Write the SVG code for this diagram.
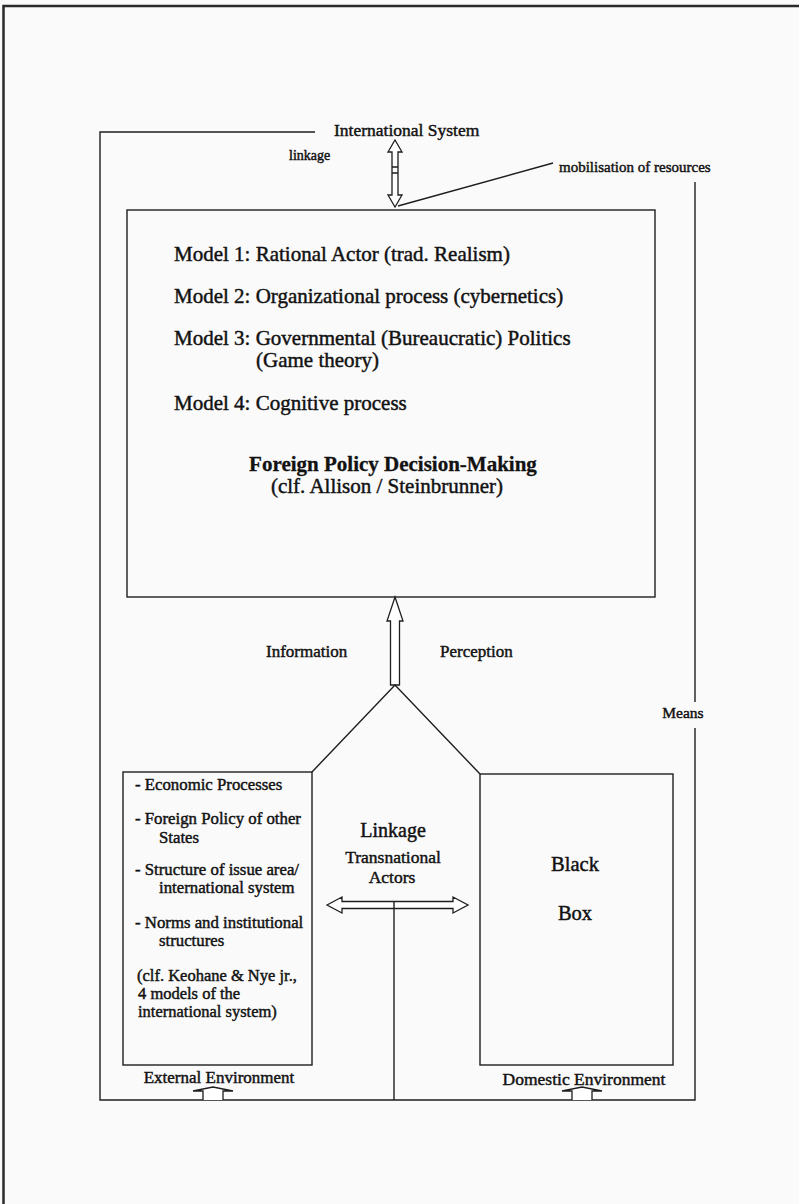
<svg xmlns="http://www.w3.org/2000/svg" width="799" height="1204" viewBox="0 0 799 1204">
  <style>
    .t { font-family: "Liberation Serif", "Times New Roman", serif; fill: #121212; stroke: #121212; stroke-width: 0.45; }
    .b { font-weight: bold; stroke-width: 0.3; }
    .c { text-anchor: middle; }
    .ln { fill: none; stroke: #1e1e1e; stroke-width: 1.4; }
    .hollow { fill: #ffffff; stroke: #1e1e1e; stroke-width: 1.3; stroke-linejoin: miter; }
  </style>

  <!-- paper -->
  <rect x="0" y="0" width="799" height="1204" fill="#fafafa"/>
  <path d="M3.5,1204 V6 H799" fill="none" stroke="#2a2a2a" stroke-width="2.5"/>

  <!-- connectors and framing lines -->
  <g id="connectors">
    <!-- outer frame of the international system -->
    <path class="ln" d="M315,132 H100 V1100 H695 V728"/>
    <path class="ln" d="M695,182 V702"/>
    <!-- linkage double arrow between system and decision-making -->
    <path class="hollow" d="M395,140 L402,152 L398,152 L398,195 L402,195 L395,207 L388,195 L392,195 L392,152 L388,152 Z"/>
    <path class="ln" d="M392,167 H398 M392,173 H398" stroke-width="1"/>
    <!-- mobilisation of resources pointer -->
    <path class="ln" d="M398,206 L553,163"/>
    <!-- information / perception arrow into decision-making -->
    <path class="hollow" d="M395,597 L403,621 L399.5,621 L399.5,685 L390.5,685 L390.5,621 L387,621 Z"/>
    <path class="ln" d="M312,772 L395,685 L480,774"/>
    <!-- transnational linkage arrow -->
    <path class="hollow" d="M327,905 L342,897 L342,901.5 L453,901.5 L453,897 L468,905 L453,913 L453,908.5 L342,908.5 L342,913 Z"/>
    <path class="ln" d="M394,901.5 V1100"/>
    <!-- environment inputs -->
    <path class="hollow" d="M203,1100 V1091 H193 L213,1087 L233,1091 H223 V1100"/>
    <path class="hollow" d="M572,1100 V1091 H562 L582,1087 L602,1091 H592 V1100"/>
  </g>

  <g id="international-system">
    <text class="t" x="334" y="136" font-size="17.5">International System</text>
    <text class="t" x="289" y="160" font-size="14">linkage</text>
    <text class="t" x="559" y="172" font-size="15">mobilisation of resources</text>
    <text class="t c" x="683" y="718" font-size="15.5">Means</text>
  </g>

  <g id="decision-making">
    <rect class="ln" x="127" y="210" width="528" height="387"/>
    <text class="t" x="174" y="261" font-size="21">Model 1: Rational Actor (trad. Realism)</text>
    <text class="t" x="174" y="303" font-size="21">Model 2: Organizational process (cybernetics)</text>
    <text class="t" x="174" y="345" font-size="21">Model 3: Governmental (Bureaucratic) Politics</text>
    <text class="t" x="256" y="367" font-size="21">(Game theory)</text>
    <text class="t" x="174" y="410" font-size="21">Model 4: Cognitive process</text>
    <text class="t b c" x="393" y="471" font-size="21">Foreign Policy Decision-Making</text>
    <text class="t c" x="387" y="493" font-size="21">(clf. Allison / Steinbrunner)</text>
  </g>

  <g id="information-labels">
    <text class="t" x="266" y="657" font-size="17">Information</text>
    <text class="t" x="440" y="657" font-size="17">Perception</text>
  </g>

  <g id="external-environment">
    <rect class="ln" x="123" y="772" width="189" height="293"/>
    <text class="t" x="135" y="790" font-size="16.8">- Economic Processes</text>
    <text class="t" x="135" y="824" font-size="16.8">- Foreign Policy of other</text>
    <text class="t" x="159" y="843" font-size="16.8">States</text>
    <text class="t" x="135" y="875" font-size="16.8">- Structure of issue area/</text>
    <text class="t" x="159" y="893" font-size="16.8">international system</text>
    <text class="t" x="135" y="928" font-size="16.8">- Norms and institutional</text>
    <text class="t" x="159" y="946" font-size="16.8">structures</text>
    <text class="t" x="137" y="981" font-size="16.5">(clf. Keohane &amp; Nye jr.,</text>
    <text class="t" x="138" y="999" font-size="16.5">4 models of the</text>
    <text class="t" x="138" y="1017" font-size="16.5">international system)</text>
    <text class="t c" x="219" y="1083" font-size="17">External Environment</text>
  </g>

  <g id="transnational-linkage">
    <text class="t c" x="393" y="837" font-size="20">Linkage</text>
    <text class="t c" x="393" y="863" font-size="17.5">Transnational</text>
    <text class="t c" x="392" y="883" font-size="17.5">Actors</text>
  </g>

  <g id="domestic-environment">
    <rect class="ln" x="480" y="774" width="193" height="291"/>
    <text class="t c" x="575" y="871" font-size="20.5">Black</text>
    <text class="t c" x="575" y="920" font-size="20.5">Box</text>
    <text class="t c" x="584" y="1085" font-size="17.5">Domestic Environment</text>
  </g>
</svg>
